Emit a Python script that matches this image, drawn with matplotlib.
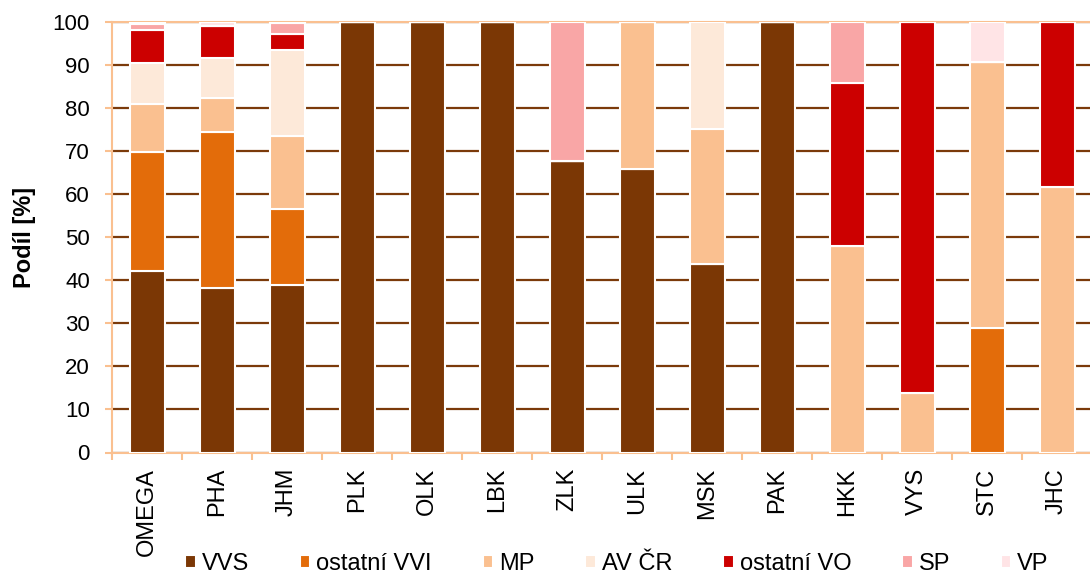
import matplotlib.pyplot as plt
import numpy as np

plt.rcParams['font.family'] = ['Liberation Sans', 'DejaVu Sans']

regions = ['OMEGA', 'PHA', 'JHM', 'PLK', 'OLK', 'LBK', 'ZLK', 'ULK', 'MSK',
           'PAK', 'HKK', 'VYS', 'STC', 'JHC']

vvs = [42.3, 38.2, 39.0, 100, 100, 100, 67.7, 66.0, 43.9, 100, 0, 0, 0, 0]
ost_vvi = [27.6, 36.2, 17.5, 0, 0, 0, 0, 0, 0, 0, 0, 0, 28.9, 0]
mp = [11.2, 7.9, 17.0, 0, 0, 0, 0, 34.0, 31.2, 0, 48.0, 13.9, 61.8, 61.6]
av_cr = [9.5, 9.5, 20.0, 0, 0, 0, 0, 0, 24.9, 0, 0, 0, 0, 0]
ost_vo = [7.5, 7.3, 3.7, 0, 0, 0, 0, 0, 0, 0, 37.8, 86.1, 0, 38.4]
sp = [1.4, 0, 2.6, 0, 0, 0, 32.3, 0, 0, 0, 14.2, 0, 0, 0]
vp = [0.5, 0.9, 0.2, 0, 0, 0, 0, 0, 0, 0, 0, 0, 9.3, 0]

series = [('VVS', vvs, '#7B3705'),
          ('ostatní VVI', ost_vvi, '#E36C0A'),
          ('MP', mp, '#FAC090'),
          ('AV ČR', av_cr, '#FDE9D9'),
          ('ostatní VO', ost_vo, '#CC0000'),
          ('SP', sp, '#F9A6A6'),
          ('VP', vp, '#FFE4E6')]

fig = plt.figure(figsize=(10.9, 5.74), dpi=100)
ax = fig.add_axes([112 / 1090, 1 - 452.5 / 574, 980 / 1090, 430.2 / 574])

x = np.arange(len(regions))
bottom = np.zeros(len(regions))
for name, vals, col in series:
    vals = np.array(vals, dtype=float)
    ax.bar(x, vals, bottom=bottom, width=0.5, color=col, edgecolor='white',
           linewidth=1.5, label=name, zorder=3)
    bottom += vals

ax.set_xlim(-0.5, len(regions) - 0.5)
ax.set_ylim(0, 100)
ax.set_yticks(range(0, 101, 10))
ax.yaxis.grid(True, color='#7B3A0A', linewidth=1.6, zorder=0)
ax.set_axisbelow(True)

ax.set_xticks(x)
ax.set_xticklabels(regions, rotation=90, fontsize=17)
ax.set_xticks(np.arange(-0.5, len(regions), 1), minor=True)
ax.tick_params(axis='x', which='major', length=0, pad=11)
ax.tick_params(axis='x', which='minor', length=5, color='#FAC090', width=1.5)
ax.tick_params(axis='y', labelsize=16, length=5, color='#FAC090', width=1.5,
               pad=11)

for s in ['left', 'bottom', 'top']:
    ax.spines[s].set_color('#FAC090')
    ax.spines[s].set_linewidth(1.5)
ax.spines['right'].set_visible(False)

ax.set_ylabel('Podíl [%]', fontsize=17, fontweight='bold', labelpad=12)

fig.legend(loc='center', bbox_to_anchor=(0.566, 0.018), ncol=7,
           frameon=False, fontsize=17, handlelength=0.45, handleheight=0.45,
           handletextpad=0.25, columnspacing=2.15, borderpad=0)

fig.savefig('out.png', dpi=100)
plt.close()
